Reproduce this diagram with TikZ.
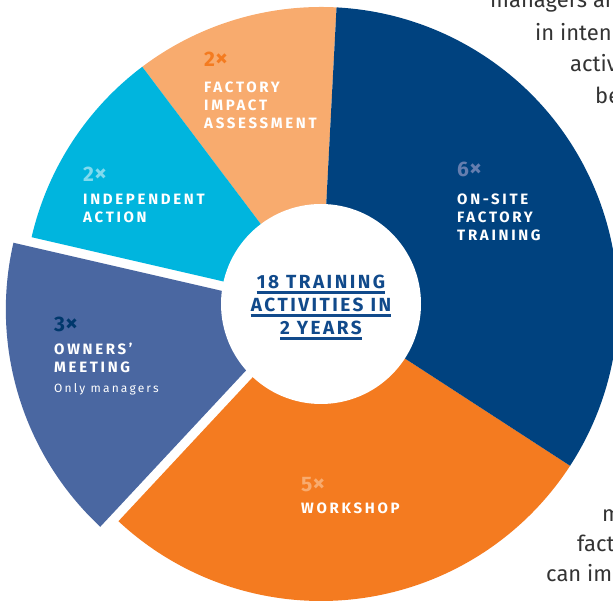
\documentclass[tikz,border=0pt]{standalone}
\usepackage{fontspec}
\setmainfont{Fira Sans}
\newfontfamily\capsfont[LetterSpace=18]{Fira Sans}
\newfontfamily\numfont[LetterSpace=6]{Fira Sans}
\newfontfamily\midfont[LetterSpace=13]{Fira Sans}
\usepackage{tikz}
\usetikzlibrary{calc}

\definecolor{darkblue}{HTML}{00427F}
\definecolor{wsorange}{HTML}{F47B20}
\definecolor{paleorange}{HTML}{F8AB6E}
\definecolor{skyblue}{HTML}{00B5DE}
\definecolor{ownblue}{HTML}{4A67A1}
\definecolor{midblue}{HTML}{114A8B}
\definecolor{bodygray}{HTML}{333333}

% bigger times sign after the counts
\newcommand{\tms}{{\fontsize{25}{25}\selectfont×}}

\tikzset{
    title/.style={anchor=base west, inner sep=0pt, text=white,
        font=\capsfont\bfseries\fontsize{15}{18}\selectfont},
    count/.style={anchor=base west, inner sep=0pt,
        font=\numfont\bfseries\fontsize{21}{24}\selectfont},
    note/.style={anchor=base west, inner sep=0pt, text=white,
        font=\capsfont\fontsize{12}{14}\selectfont},
    ctr/.style={anchor=base, inner sep=0pt, text=midblue,
        font=\midfont\bfseries\fontsize{19}{23}\selectfont},
    uline/.style={midblue, line width=2.5pt},
    body/.style={anchor=base west, inner sep=0pt, text=bodygray,
        font=\fontsize{22}{30}\selectfont}
}

\begin{document}
\begin{tikzpicture}[x=1pt,y=1pt]
    \useasboundingbox (0,0) rectangle (613,601);
    \clip (0,0) rectangle (613,601);
    % centre and radii of the ring
    \coordinate (c) at (321,297);
    \def\rout{297pt}
    \def\rin{100pt}
    % slices, clockwise from the top
    \foreach \a/\b/\col in {87/127/paleorange, 127/167/skyblue, 227/327/wsorange, 327/447/darkblue} {
        \fill[\col] (c) -- +(\a:\rout) arc[start angle=\a, end angle=\b, radius=\rout] -- cycle;
    }
    % owners' meeting slice is pulled out a bit
    \coordinate (cshift) at ($(c)+(197:19pt)$);
    \fill[ownblue] (cshift) -- +(167:\rout) arc[start angle=167, end angle=227, radius=\rout] -- cycle;
    % hole in the middle
    \fill[white] (c) circle (\rin);

    % factory impact assessment
    \node[count, text=wsorange] (fiacount) at (204,534) {2\tms};
    \node[title] (fia1) at (204,508) {FACTORY};
    \node[title] (fia2) at (204,490) {IMPACT};
    \node[title] (fia3) at (204,472) {ASSESSMENT};

    % independent action
    \node[count, text=skyblue!50!white] (iacount) at (83,419) {2\tms};
    \node[title] (ia1) at (83,396) {INDEPENDENT};
    \node[title] (ia2) at (83,378) {ACTION};

    % owners' meeting
    \node[count, text=darkblue!85!black] (omcount) at (54,269) {3\tms};
    \node[title] (om1) at (54,246) {OWNERS’};
    \node[title] (om2) at (54,228) {MEETING};
    \node[note] (om3) at (54,208) {Only managers};

    % on-site factory training
    \node[count, text=ownblue!85!white] (ostcount) at (457,424) {6\tms};
    \node[title] (ost1) at (457,396) {ON-SITE};
    \node[title] (ost2) at (457,378) {FACTORY};
    \node[title] (ost3) at (457,360) {TRAINING};

    % workshop
    \node[count, text=paleorange] (wscount) at (301,109) {5\tms};
    \node[title] (ws1) at (301,87) {WORKSHOP};

    % text in the hole, underlined
    \node[ctr] (mid1) at (321,312) {18 TRAINING};
    \node[ctr] (mid2) at (321,289) {ACTIVITIES IN};
    \node[ctr] (mid3) at (321,266) {2 YEARS};
    \foreach \n in {mid1,mid2,mid3} {
        \draw[uline] ([yshift=-3.5pt]\n.base west) -- ([yshift=-3.5pt]\n.base east);
    }

    % running text cut off at the right edge
    \node[body] (txt1) at (490,593) {managers ar};
    \node[body] (txt2) at (535,560) {in inten};
    \node[body] (txt3) at (570,529) {activ};
    \node[body] (txt4) at (595,497) {be};
    \node[body] (txt5) at (602,79) {m};
    \node[body] (txt6) at (577,49) {fact};
    \node[body] (txt7) at (546,19) {can imp};
\end{tikzpicture}
\end{document}
